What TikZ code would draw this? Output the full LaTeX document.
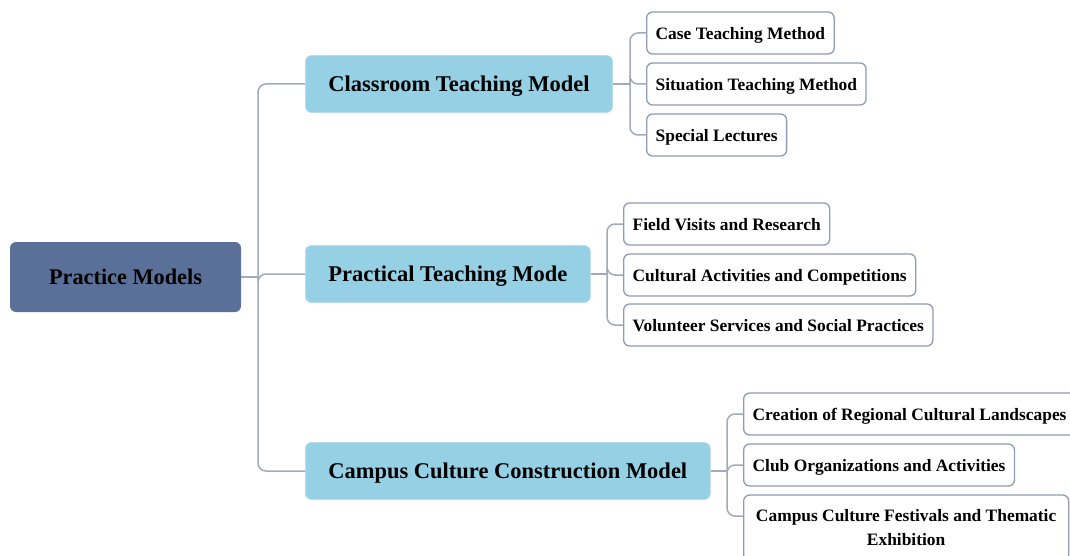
\documentclass[tikz,border=0pt]{standalone}
\usepackage{fontspec}
\setmainfont{Liberation Serif}
\begin{document}
\begin{tikzpicture}[x=1pt,y=-1pt,
  rootbox/.style={draw=none,fill=rootc,rounded corners=6pt,minimum width=231pt,minimum height=70pt,font=\fontsize{22.3}{26}\selectfont\bfseries,inner sep=0pt,text depth=0pt},
  midbox/.style={draw=midline,line width=0.6pt,fill=midc,rounded corners=6pt,minimum height=57pt,font=\fontsize{22.5}{26}\selectfont\bfseries,inner xsep=23pt,inner ysep=0pt,anchor=west,text depth=0pt},
  leafbox/.style={draw=leafline,line width=1.3pt,fill=white,rounded corners=6pt,minimum height=42pt,font=\fontsize{17.4}{24}\selectfont\bfseries,inner xsep=9pt,inner ysep=0pt,anchor=west},
  oneline/.style={text depth=0pt},
  link/.style={draw=linkc,line width=1.5pt,rounded corners=8pt}]
\definecolor{rootc}{HTML}{5A7099}
\definecolor{midc}{HTML}{96D0E4}
\definecolor{midline}{HTML}{B8DDEB}
\definecolor{leafline}{HTML}{8E9BB2}
\definecolor{linkc}{HTML}{A2A9B7}
\useasboundingbox (0,0) rectangle (1070,556);
\clip (0,0) rectangle (1070,556);
% root
\node[rootbox] (root) at (125.5,277) {Practice Models};
% level 1
\node[midbox] (cls) at (305,84) {Classroom Teaching Model};
\node[midbox] (prc) at (305,274) {Practical Teaching Mode};
\node[midbox] (cmp) at (305,471) {Campus Culture Construction Model};
% leaves
\node[leafbox,oneline] (c1) at (646,33) {Case Teaching Method};
\node[leafbox,oneline] (c2) at (646,84) {Situation Teaching Method};
\node[leafbox,oneline] (c3) at (646,135) {Special Lectures};
\node[leafbox,oneline] (p1) at (623,224) {Field Visits and Research};
\node[leafbox,oneline] (p2) at (623,275) {Cultural Activities and Competitions};
\node[leafbox,oneline] (p3) at (623,325) {Volunteer Services and Social Practices};
\node[leafbox,oneline,minimum width=335pt] (m1) at (743,414) {Creation of Regional Cultural Landscapes\hspace*{20pt}};
\node[leafbox,oneline] (m2) at (743,465) {Club Organizations and Activities};
\node[leafbox,minimum height=66pt,minimum width=325pt,align=center] (m3) at (743,528) {Campus Culture Festivals and Thematic\\Exhibition};
% trunk
\coordinate (tr) at (258,277);
\draw[link] (root.east) -- (tr);
\draw[link] (tr) |- (cls.west);
\draw[link] (tr) |- (prc.west);
\draw[link] (tr) |- (cmp.west);
% classroom bracket
\coordinate (cb) at (630,84);
\draw[link] (cls.east) -- (cb);
\foreach \n in {c1,c2,c3} \draw[link] (cb) |- (\n.west);
% practical bracket
\coordinate (pb) at (607,274);
\draw[link] (prc.east) -- (pb);
\foreach \n in {p1,p2,p3} \draw[link] (pb) |- (\n.west);
% campus bracket
\coordinate (mb) at (727,471);
\draw[link] (cmp.east) -- (mb);
\foreach \n in {m1,m2} \draw[link] (mb) |- (\n.west);
\draw[link] (mb) |- (m3.west |- 516,516);
\end{tikzpicture}
\end{document}
